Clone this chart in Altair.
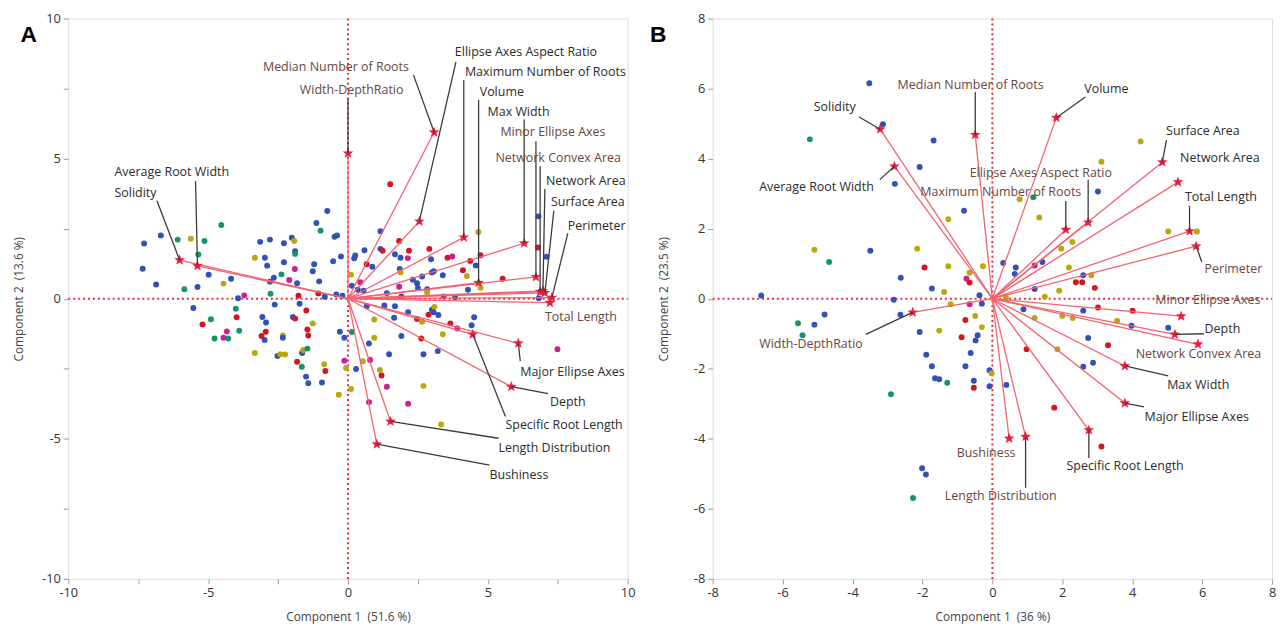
import altair as alt
import pandas as pd

# ---------------- Panel A (Component 1 vs 2) ----------------
A_names = ["Median Number of Roots", "Width-DepthRatio", "Ellipse Axes Aspect Ratio",
           "Maximum Number of Roots", "Volume", "Max Width", "Minor Ellipse Axes",
           "Network Convex Area", "Network Area", "Surface Area", "Perimeter", "Total Length",
           "Major Ellipse Axes", "Depth", "Specific Root Length", "Length Distribution",
           "Bushiness", "Average Root Width", "Solidity"]
A_vec_x = [3.08, 0.0, 2.55, 4.14, 4.67, 6.30, 6.72, 6.87, 6.97, 7.04, 7.29, 7.22,
           6.09, 5.84, 4.46, 1.52, 1.03, -5.38, -6.02]
A_vec_y = [5.94, 5.19, 2.76, 2.19, 0.57, 1.98, 0.78, 0.25, 0.28, 0.21, 0.04, -0.14,
           -1.59, -3.14, -1.27, -4.38, -5.19, 1.17, 1.38]
A_lab_x = [-3.04, -1.72, 3.82, 4.18, 4.71, 4.99, 5.45, 5.27, 7.08, 7.26, 7.86, 7.04,
           6.16, 7.22, 5.63, 5.38, 5.06, -8.35, -8.35]
A_lab_y = [8.27, 7.46, 8.80, 8.09, 7.39, 6.68, 5.94, 5.02, 4.20, 3.46, 2.61, -0.67,
           -2.61, -3.67, -4.52, -5.34, -6.29, 4.52, 3.78]
A_lead_x = [2.34, 0.0, 3.86, 4.14, 4.67, 6.30, 6.72, 6.87, 7.04, 7.36, 7.86, None,
            6.16, 7.15, 5.63, 5.38, 5.06, -5.45, -6.83]
A_lead_y = [7.99, 7.14, 8.45, 7.81, 7.10, 6.40, 5.62, 4.73, 3.92, 3.14, 2.33, None,
            -2.23, -3.39, -4.20, -4.98, -5.94, 4.20, 3.50]
A_tone = ["brown", "brown", "dark", "dark", "dark", "dark", "brown", "brown", "dark", "dark",
          "dark", "brown", "dark", "dark", "dark", "dark", "dark", "dark", "dark"]

A_pt_x = [-0.74, -1.13, -0.98, -0.48, -0.39, -0.25, -0.53, -4.53, -6.69, -7.29, -6.09, -5.62,
          -5.13, -5.35, -7.34, -6.86, -5.85, -5.38, -4.98, -4.45, -4.18, -5.53, -5.20, -4.90,
          -4.77, -4.45, -4.33, -4.28, -3.89, -4.01, -3.98, -3.93, -3.71, -3.14, -2.79, -2.29,
          -2.01, -1.92, -1.89, -1.89, -3.33, -2.97, -2.89, -2.29, -2.38, -2.65, -2.79, -2.10,
          -1.90, -1.82, -1.21, -1.26, -1.03, -1.06, -0.83, -0.42, -0.20, -2.77, -2.62, -1.77,
          -1.73, -1.49, -3.06, -2.93, -2.94, -3.09, -2.98, -1.97, -1.89, -1.26, -1.45, -1.42,
          -2.33, -2.33, -3.33, -2.52, -2.42, -2.25, -1.64, -1.60, -1.45, -1.82, -1.65, -1.50,
          -1.42, -0.93, -0.85, -0.81, -0.29, -0.33,
          1.51, 1.16, 1.83, 1.16, 1.24, 0.59, 0.26, 0.22, 0.67, 0.87, 2.18, 1.68, 1.88, 2.14,
          2.91, 2.97, 3.56, 3.73, 4.37, 4.74, 4.66, 4.57, 1.85, 1.88, 0.11, 0.44, 0.14, 0.35,
          0.56, 1.83, 1.39, 1.91, 2.32, 2.47, 2.65, 3.00, 3.07, 3.39, 2.83, 2.83, 2.50, 4.11,
          4.25, 4.29, 4.74, 5.53, 6.81, 6.79, 7.10, 6.82, 3.83, 3.42, 0.67, 1.30, 1.68, 2.15,
          1.65, 0.94, 2.47, 2.65, 2.88, 3.00, 3.09, 3.06, 3.23, 3.66, 3.91, 4.42, 4.51, 3.39,
          1.91, 0.94, 0.75, 2.62, 1.47, 2.70, 3.21, 7.49, 0.14, -0.13, 0.53, 0.79, 0.29, -0.07,
          1.14, 1.20, 1.39, 0.11, 2.70, 0.75, 2.15, 3.33, -0.13]
A_pt_y = [3.13, 2.70, 2.43, 2.21, 2.26, 1.51, 1.34, 2.63, 2.26, 1.97, 2.11, 2.14,
          2.06, 1.58, 1.07, 0.51, 0.34, 0.42, 0.86, 0.54, 0.71, -0.33, -0.92, -0.73,
          -1.42, -1.39, -1.17, -1.42, -1.14, -0.36, -0.66, 0.02, 0.12, 2.03, 2.11, 1.98,
          2.18, 2.06, 1.70, 1.60, 1.46, 1.46, 1.18, 1.30, 0.87, 0.75, 0.61, 0.67,
          1.06, 0.55, 1.23, 0.98, 0.62, 0.19, 0.07, 0.15, 0.11, 0.18, -0.21, 0.11,
          -0.18, -0.42, -0.65, -0.85, -1.18, -1.33, -1.47, -0.65, -0.71, -0.88, -1.10, -1.31,
          -1.31, -1.39, -1.94, -2.04, -1.98, -1.99, -1.94, -1.83, -1.78, -2.25, -2.43, -2.78,
          -3.02, -2.99, -2.34, -2.58, -1.18, -3.43,
          4.09, 2.41, 2.06, 1.78, 1.71, 1.73, 1.54, 1.44, 1.23, 1.14, 1.71, 1.59, 1.46, 1.45,
          1.78, 1.41, 1.46, 1.51, 1.35, 1.55, 2.38, 1.19, 1.06, 0.94, 0.86, 0.59, 0.46, 0.32,
          0.29, 0.43, 0.20, 0.08, 0.68, 0.55, 0.79, 0.94, 0.98, 0.84, 0.34, 0.22, 0.38, 1.02,
          0.81, 0.32, 0.39, 0.71, 2.94, 1.83, 1.50, 0.02, 0.05, 0.08, -0.27, -0.24, -0.27, -0.48,
          -0.68, -0.74, -0.72, -0.82, -0.57, -0.39, -0.29, -0.48, -0.58, -0.88, -1.06, -0.95,
          -0.66, -1.27, -1.33, -1.39, -1.60, -1.42, -1.98, -1.98, -1.87, -1.80, -1.19, -1.39,
          -2.23, -2.19, -2.51, -2.47, -2.54, -2.74, -3.14, -3.22, -3.11, -3.69, -3.75, -4.49,
          -2.21]
A_pt_g = list("bbgbbbb" "gbbgygg" "bbgbbyb" "brggmmg" "ggrbm" "bbbbybg" "ybbbgbb" "mmbbbb"
              "rbbb" "gbrbr" "bbrrbbr" "yrryby" "byybyg" "rgbbbyrb" "y"
              "rbrbrbbbrb" "rbbmrbrmrr" "ybbyymbbbm" "bbbbbbbbby" "brybyrbrbb"
              "bbbbbbbyry" "rbybbrmbby" "bybrbbbmgb" "ymbyyrmyym" "mym")

# ---------------- Panel B ----------------
B_names = ["Solidity", "Average Root Width", "Median Number of Roots", "Width-DepthRatio",
           "Volume", "Surface Area", "Network Area", "Total Length", "Perimeter",
           "Ellipse Axes Aspect Ratio", "Maximum Number of Roots", "Minor Ellipse Axes", "Depth",
           "Network Convex Area", "Max Width", "Major Ellipse Axes", "Specific Root Length",
           "Bushiness", "Length Distribution"]
B_vec_x = [-3.21, -2.80, -0.49, -2.28, 1.83, 4.86, 5.31, 5.64, 5.83, 2.74, 2.10, 5.40, 5.22,
           5.88, 3.79, 3.79, 2.76, 0.48, 0.95]
B_vec_y = [4.84, 3.78, 4.68, -0.39, 5.17, 3.90, 3.33, 1.93, 1.50, 2.18, 1.97, -0.50, -1.02,
           -1.30, -1.92, -2.98, -3.75, -3.99, -3.94]
B_lab_x = [-5.11, -6.67, -2.71, -6.67, 2.63, 4.97, 5.37, 5.51, 6.07, -0.65, -2.06, 4.66, 6.07,
           4.10, 5.00, 4.35, 2.12, -1.02, -1.36]
B_lab_y = [5.47, 3.18, 6.09, -1.29, 6.00, 4.79, 4.03, 2.90, 0.86, 3.60, 3.04, -0.04, -0.86,
           -1.57, -2.47, -3.38, -4.79, -4.42, -5.63]
B_lead_x = [-3.81, -3.22, -0.49, -3.62, 2.66, 4.98, None, 5.64, 5.99, 2.74, 2.10, None, 6.05,
            None, 5.03, 4.34, 2.76, None, 0.95]
B_lead_y = [5.19, 3.40, 5.90, -1.02, 5.76, 4.53, None, 2.65, 1.05, 3.40, 2.79, None, -1.00,
            None, -2.20, -3.09, -4.55, None, -5.40]
B_tone = ["dark", "dark", "brown", "brown", "dark", "dark", "dark", "dark", "brown", "brown",
          "brown", "brown", "dark", "brown", "dark", "dark", "dark", "brown", "brown"]

B_pt_x = [-3.52, -3.13, -5.22, -1.68, -2.08, -2.79, -0.81, -1.26, -5.09, -4.67, -3.49, -2.15,
          -1.94, -1.26, -0.27, -0.65, -0.74, -0.65, -2.62, -1.73, -1.38, -1.19, -0.37, -0.30,
          -0.65, -6.61, -2.82, -2.63, -4.80, -5.09, -5.56, -5.43, -2.08, -1.52, -0.77, -0.49,
          -0.30, -0.88, -0.42, -0.48, -0.62, -1.89, -1.73, -0.77, -1.64, -1.52, -1.29, -0.53,
          -0.53, -0.08, -0.08, -0.02, -2.90, -2.01, -1.90, -2.27,
          4.24, 3.12, 3.02, 1.17, 0.78, 1.34, 5.03, 5.85, 2.29, 1.97, 0.31, 0.67, 0.64, 1.21,
          1.43, 2.19, 2.60, 2.83, 2.39, 2.57, 2.93, 1.21, 1.91, 1.50, 0.39, 0.89, 1.21, 2.00,
          2.30, 2.60, 3.02, 4.01, 3.57, 3.98, 5.03, 2.74, 3.31, 0.98, 1.86, 2.60, 2.88, 0.40,
          1.77, 3.12]
B_pt_y = [6.15, 4.98, 4.55, 4.52, 3.76, 3.28, 2.51, 2.27, 1.40, 1.05, 1.37, 1.43,
          0.89, 0.93, 0.93, 0.74, 0.57, 0.46, 0.60, 0.29, 0.19, -0.16, 0.10, -0.14,
          -0.16, 0.09, -0.03, -0.46, -0.45, -0.74, -0.70, -1.04, -0.95, -0.91, -0.61, -0.49,
          -0.81, -1.10, -1.04, -1.19, -1.55, -1.60, -1.93, -1.93, -2.27, -2.30, -2.40, -2.34,
          -2.54, -2.50, -2.04, -2.13, -2.73, -4.84, -5.02, -5.69,
          4.49, 3.91, 3.06, 2.90, 2.84, 2.32, 1.92, 1.92, 1.62, 1.43, 1.02, 0.89, 0.71, 0.95,
          1.05, 0.89, 0.67, 0.67, 0.47, 0.47, 0.31, 0.28, 0.23, 0.06, 0.03, -0.30, -0.55, -0.49,
          -0.55, -0.34, -0.25, -0.34, -0.63, -0.77, -0.83, -1.12, -1.33, -1.44, -1.44, -1.94,
          -1.83, -2.46, -3.11, -4.22]
B_pt_g = list("bbgbbbbyyg" "byryyymrbb" "yybbmbbbbb" "ggbyryyrbb" "bbbbbbgbrb" "bygbbg"
              "yybgyyyyyy" "bbbmbybyrr" "rbyyybyyyb" "rrybbbrryb" "bbrr")

GROUPS = ["b", "r", "y", "g", "m"]
GROUP_COLORS = ["#2f52b5", "#d4151d", "#bba612", "#149568", "#cc1d92"]

FONT = "Open Sans"
STAR = ("M0,-1L0.247,-0.34L0.951,-0.309L0.4,0.13L0.588,0.809L0,0.42L-0.588,0.809"
        "L-0.4,0.13L-0.951,-0.309L-0.247,-0.34Z")


def panel(names, vx, vy, lx, ly, ldx, ldy, tone, px, py, pg, lim, ticks, major,
          xtitle, ytitle, letter, letter_dx, ytitle_pad):
    def axis(title, pad):
        return alt.Axis(values=ticks, grid=False, domain=False, tickColor="#9a9a9a", tickSize=5,
                        tickWidth=1, labelFlush=False, labelColor="#333333", labelFontSize=13,
                        labelFont=FONT, labelPadding=3,
                        labelExpr=f"abs(datum.value % {major}) < 0.01 ? '' + datum.value : ''",
                        title=title, titleFont=FONT, titleFontSize=12, titleFontWeight="normal",
                        titleColor="#444444", titlePadding=pad)

    sx = alt.Scale(domain=[-lim, lim], nice=False, zero=False)

    def X(f):
        return alt.X(f, type="quantitative", scale=sx, axis=axis(xtitle, 12))

    def Y(f):
        return alt.Y(f, type="quantitative", scale=sx, axis=axis(ytitle, ytitle_pad))

    vec = pd.DataFrame({"name": names, "x": vx, "y": vy, "x0": 0.0, "y0": 0.0})
    lab = pd.DataFrame({"name": names, "x": lx, "y": ly, "tone": tone})
    lead = pd.DataFrame({"x": ldx, "y": ldy, "x2": vx, "y2": vy}).dropna()
    pts = pd.DataFrame({"x": px, "y": py, "g": pg})
    zv = pd.DataFrame({"x": [0.0], "y": [-lim], "y2": [lim]})
    zh = pd.DataFrame({"y": [0.0], "x": [-lim], "x2": [lim]})

    vline = alt.Chart(zv).mark_rule(color="#ee2a3a", strokeWidth=2, strokeDash=[2, 3]).encode(
        x=X("x"), y=Y("y"), y2="y2")
    hline = alt.Chart(zh).mark_rule(color="#ee2a3a", strokeWidth=2, strokeDash=[2, 3]).encode(
        x=X("x"), x2="x2", y=Y("y"))
    dots = alt.Chart(pts).mark_circle(size=36, opacity=1).encode(
        x=X("x"), y=Y("y"),
        color=alt.Color("g:N", scale=alt.Scale(domain=GROUPS, range=GROUP_COLORS), legend=None))
    rays = alt.Chart(vec).mark_rule(color="#f4616f", strokeWidth=1.3).encode(
        x=X("x0"), y=Y("y0"), x2="x", y2="y")
    leaders = alt.Chart(lead).mark_rule(color="#3a3a3a", strokeWidth=1.3).encode(
        x=X("x"), y=Y("y"), x2="x2", y2="y2")
    stars = alt.Chart(vec).mark_point(shape=STAR, filled=True, size=130, color="#ec1e3f",
                                      opacity=1).encode(x=X("x"), y=Y("y"))
    texts = alt.Chart(lab).mark_text(align="left", baseline="middle", font=FONT,
                                     fontSize=12.6).encode(
        x=X("x"), y=Y("y"), text="name:N",
        color=alt.Color("tone:N", scale=alt.Scale(domain=["dark", "brown"],
                                                  range=["#2b2b2b", "#6a4640"]), legend=None))
    let = alt.Chart(pd.DataFrame({"t": [letter]})).mark_text(
        font="Liberation Sans", fontWeight="bold", fontSize=23, align="center",
        baseline="middle", color="#000000").encode(
        x=alt.value(letter_dx), y=alt.value(17), text="t:N")

    return alt.layer(vline, hline, dots, rays, stars, leaders, texts, let).properties(
        width=566, height=567).resolve_scale(color="independent")


panelA = panel(A_names, A_vec_x, A_vec_y, A_lab_x, A_lab_y, A_lead_x, A_lead_y, A_tone,
               A_pt_x, A_pt_y, A_pt_g, 10, [-10, -7.5, -5, -2.5, 0, 2.5, 5, 7.5, 10], 5,
               "Component 1\u00a0 (51.6 %)", "Component 2\u00a0 (13.6 %)", "A", -40, 16)
panelB = panel(B_names, B_vec_x, B_vec_y, B_lab_x, B_lab_y, B_lead_x, B_lead_y, B_tone,
               B_pt_x, B_pt_y, B_pt_g, 8, [-8, -6, -4, -2, 0, 2, 4, 6, 8], 2,
               "Component 1\u00a0 (36 %)", "Component 2\u00a0 (23.5 %)", "B", -55, 23)

chart = alt.hconcat(panelA, panelB, spacing=14).properties(
    padding={"left": 4, "top": 0, "right": 0, "bottom": 0}
).configure_view(stroke="#c6c6c6", strokeWidth=1.5).configure(background="white")

chart.save("out.html", embed_options={"renderer": "svg", "actions": False})
